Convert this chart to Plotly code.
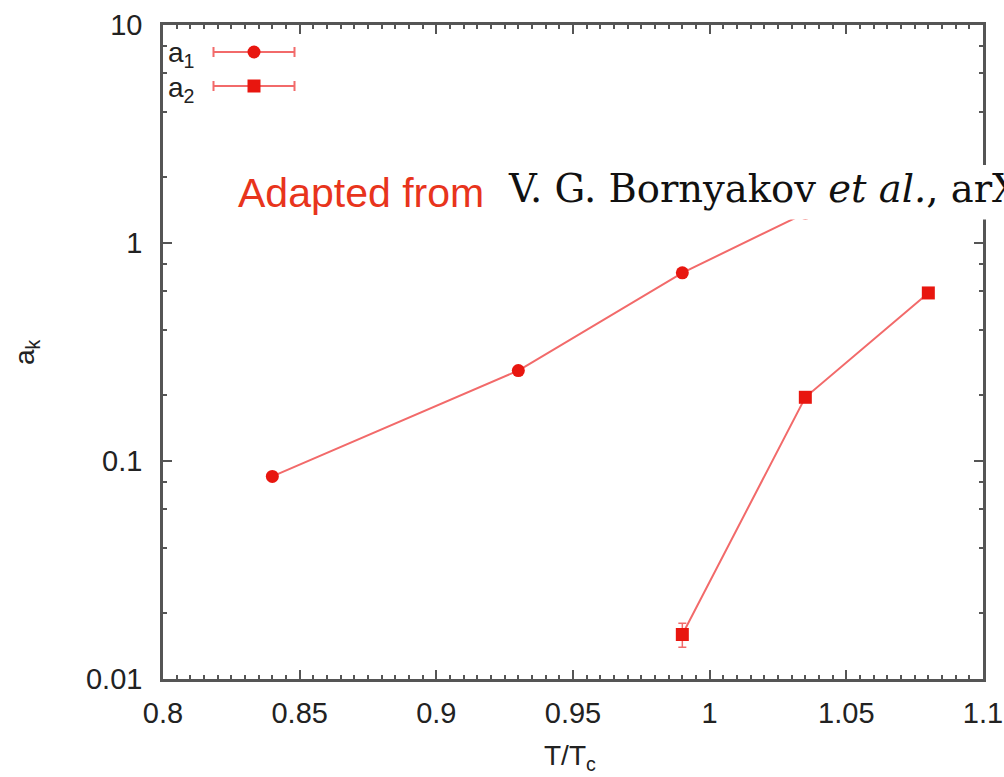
import plotly.graph_objects as go

# ---------------- data ----------------
a1_x = [0.84, 0.93, 0.99, 1.035]
a1_y = [0.085, 0.26, 0.73, 1.37]
a1_err = [0.002, 0.005, 0.01, 0.02]

a2_x = [0.99, 1.035, 1.08]
a2_y = [0.016, 0.196, 0.59]
a2_err = [0.002, 0.006, 0.02]

x_tickvals = [0.8, 0.85, 0.9, 0.95, 1.0, 1.05, 1.1]
x_ticktext = ["0.8", "0.85", "0.9", "0.95", "1", "1.05", "1.1"]
y_tickvals = [0.01, 0.1, 1, 10]
y_ticktext = ["0.01", "0.1", "1", "10"]
y_minor_vals = [0.02, 0.04, 0.06, 0.08, 0.2, 0.4, 0.6, 0.8, 2, 4, 6, 8]

series_names = ["a<sub>1</sub>", "a<sub>2</sub>"]

# ---------------- style ----------------
W, H = 1004, 777
L, R, T, B = 163, 983, 25, 679  # plot area in page pixels
MARKER = "#e8160f"
LINE = "#f26a6a"
AXIS = "#555555"
SANS = "Liberation Sans, Arial, Helvetica, sans-serif"
SERIF = "DejaVu Serif, Liberation Serif, serif"

def px_x(p):
    return (p - L) / (R - L)

def px_y(p):
    return (B - p) / (B - T)

fig = go.Figure()

fig.add_trace(go.Scatter(
    x=a1_x, y=a1_y, mode="lines+markers", name="a1",
    line=dict(color=LINE, width=2),
    marker=dict(symbol="circle", size=13, color=MARKER),
    error_y=dict(type="data", array=a1_err, color=LINE, thickness=1.5, width=4),
    showlegend=False,
))
fig.add_trace(go.Scatter(
    x=a2_x, y=a2_y, mode="lines+markers", name="a2",
    line=dict(color=LINE, width=2),
    marker=dict(symbol="square", size=13, color=MARKER),
    error_y=dict(type="data", array=a2_err, color=LINE, thickness=1.5, width=4),
    showlegend=False,
))

# legend keys (gnuplot style: label then sample with horizontal error bar)
key_cx = px_x(254)
key_half = (295 - 214) / 2 / (R - L)
key_rows = [px_y(52), px_y(86)]
key_symbols = ["circle", "square"]
for row, sym in zip(key_rows, key_symbols):
    fig.add_trace(go.Scatter(
        x=[key_cx], y=[row], mode="markers", xaxis="x2", yaxis="y2",
        marker=dict(symbol=sym, size=13, color=MARKER),
        error_x=dict(type="constant", value=key_half, color=LINE, thickness=2, width=5),
        showlegend=False, hoverinfo="skip",
    ))

axis_common = dict(
    showline=True, linecolor=AXIS, linewidth=2.5, mirror="ticks",
    ticks="inside", ticklen=9, tickwidth=2, tickcolor=AXIS,
    showgrid=False, zeroline=False, automargin=False,
    tickfont=dict(family=SANS, size=29, color="#222222"),
)

fig.update_layout(
    width=W, height=H,
    margin=dict(l=L, r=W - R, t=T, b=H - B, pad=0, autoexpand=False),
    paper_bgcolor="white", plot_bgcolor="white",
    xaxis=dict(
        range=[0.8, 1.1], tickmode="array", tickvals=x_tickvals, ticktext=x_ticktext,
        minor=dict(dtick=0.005, ticks="inside", ticklen=4, tickwidth=1.5, tickcolor=AXIS),
        ticklabelstandoff=6,
        **axis_common,
    ),
    yaxis=dict(
        type="log", range=[-2, 1], tickmode="array", tickvals=y_tickvals, ticktext=y_ticktext,
        minor=dict(tickmode="array", tickvals=y_minor_vals, ticks="inside", ticklen=4.5,
                   tickwidth=1.5, tickcolor=AXIS),
        ticklabelstandoff=12,
        **axis_common,
    ),
    xaxis2=dict(overlaying="x", range=[0, 1], visible=False, fixedrange=True),
    yaxis2=dict(overlaying="y", range=[0, 1], visible=False, fixedrange=True),
    showlegend=False,
)

# white overlay box for the citation text
fig.add_shape(
    type="rect", xref="paper", yref="paper",
    x0=px_x(500), x1=px_x(W + 5), y0=px_y(219.5), y1=px_y(165),
    fillcolor="white", line=dict(width=0), layer="above",
)

annotations = [
    dict(text=series_names[0], x=px_x(166), y=px_y(55), xanchor="left", yanchor="middle",
         font=dict(family=SANS, size=28, color="#222222")),
    dict(text=series_names[1], x=px_x(166), y=px_y(89), xanchor="left", yanchor="middle",
         font=dict(family=SANS, size=28, color="#222222")),
    dict(text="a<sub>k</sub>", x=px_x(26), y=px_y(352), xanchor="center", yanchor="middle",
         textangle=-90, font=dict(family=SANS, size=28, color="#222222")),
    dict(text="T/T<sub>c</sub>", x=px_x(570), y=px_y(757), xanchor="center", yanchor="middle",
         font=dict(family=SANS, size=28, color="#222222")),
    dict(text="Adapted from", x=px_x(236), y=px_y(193), xanchor="left", yanchor="middle",
         font=dict(family=SANS, size=41, color="#e8341c")),
    dict(text="V. G. Bornyakov <i>et al.</i>, arX", x=px_x(506), y=px_y(189),
         xanchor="left", yanchor="middle",
         font=dict(family=SERIF, size=38.5, color="#111111")),
]
for a in annotations:
    a.update(xref="paper", yref="paper", showarrow=False)
    fig.add_annotation(**a)

# remove the default 8px page margin so the figure fills the window exactly
fig.write_html(
    "out.html",
    config={"displayModeBar": False},
    post_script="document.body.style.margin='0';",
)
